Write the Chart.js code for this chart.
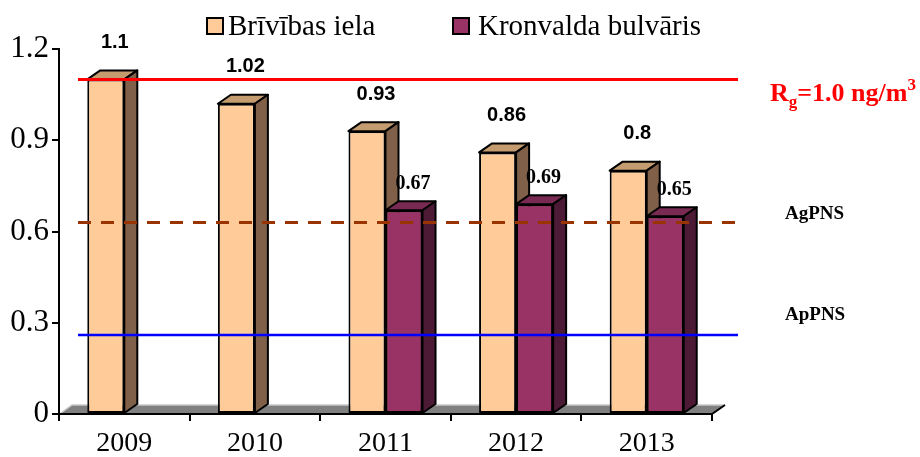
<!DOCTYPE html>
<html>
<head>
<meta charset="utf-8">
<script src="https://cdn.jsdelivr.net/npm/chart.js@4.4.1/dist/chart.umd.min.js"></script>
<style>
  body { margin: 0; background: #fff; }
</style>
</head>
<body>
<canvas id="chart" width="920" height="457"></canvas>
<script>
const years = ['2009', '2010', '2011', '2012', '2013'];
const brivibas = [1.1, 1.02, 0.93, 0.86, 0.8];
const kronvalda = [null, null, 0.67, 0.69, 0.65];
const seriesNames = ['Brīvības iela', 'Kronvalda bulvāris'];
const yTicks = [0, 0.3, 0.6, 0.9, 1.2];

// horizontal reference lines
const lineRg = 1.1;
const lineAg = 0.63;
const lineAp = 0.26;

const colors = [
    { front: '#FFCC99', top: '#C49C70', side: '#806048' },
    { front: '#993366', top: '#782A52', side: '#4D1A35' }
];
const DX = 13, DY = 9;
const serif = "'Liberation Serif', 'Times New Roman', serif";
const sans = "'Liberation Sans', Arial, sans-serif";

function drawBox(ctx, bar, c) {
    const left = bar.x - bar.width / 2, right = bar.x + bar.width / 2;
    const top = bar.y, bottom = bar.base;
    ctx.save();
    ctx.lineWidth = 2;
    ctx.strokeStyle = '#000';
    ctx.lineJoin = 'round';
    ctx.beginPath();
    ctx.moveTo(left, top);
    ctx.lineTo(left + DX, top - DY);
    ctx.lineTo(right + DX, top - DY);
    ctx.lineTo(right, top);
    ctx.closePath();
    ctx.fillStyle = c.top;
    ctx.fill();
    ctx.stroke();
    ctx.beginPath();
    ctx.moveTo(right, top);
    ctx.lineTo(right + DX, top - DY);
    ctx.lineTo(right + DX, bottom - DY);
    ctx.lineTo(right, bottom);
    ctx.closePath();
    ctx.fillStyle = c.side;
    ctx.fill();
    ctx.stroke();
    ctx.restore();
}

const boxes = {
    id: 'boxes',
    beforeDraw(chart) {
        // grey floor
        const { ctx, chartArea: a } = chart;
        ctx.save();
        ctx.beginPath();
        ctx.moveTo(a.left, a.bottom);
        ctx.lineTo(a.left + DX, a.bottom - DY);
        ctx.lineTo(a.right + DX, a.bottom - DY);
        ctx.lineTo(a.right, a.bottom);
        ctx.closePath();
        ctx.fillStyle = '#808080';
        ctx.fill();
        ctx.strokeStyle = '#C8C8C8';
        ctx.lineWidth = 1.5;
        ctx.beginPath();
        ctx.moveTo(a.left + 2, a.bottom - 1);
        ctx.lineTo(a.left + DX, a.bottom - DY);
        ctx.lineTo(a.right + DX, a.bottom - DY);
        ctx.stroke();
        ctx.strokeStyle = '#000';
        ctx.lineWidth = 2;
        ctx.beginPath();
        ctx.moveTo(a.right, a.bottom);
        ctx.lineTo(a.right + DX, a.bottom - DY);
        ctx.stroke();
        ctx.restore();
    },
    afterDatasetsDraw(chart) {
        const { ctx, chartArea: a, scales: { y } } = chart;
        const m0 = chart.getDatasetMeta(0), m1 = chart.getDatasetMeta(1);

        // 3d faces, left bar first then right bar in front of its side
        years.forEach((yr, i) => {
            if (brivibas[i] != null) drawBox(ctx, m0.data[i], colors[0]);
            if (kronvalda[i] != null) {
                m1.data[i].draw(ctx, a);
                drawBox(ctx, m1.data[i], colors[1]);
            }
        });

        const x0 = a.left + 19, x1 = a.right + 26;
        ctx.save();
        const hline = (v, color, w, dash) => {
            ctx.beginPath();
            ctx.strokeStyle = color;
            ctx.lineWidth = w;
            ctx.setLineDash(dash);
            ctx.moveTo(x0, y.getPixelForValue(v));
            ctx.lineTo(x1, y.getPixelForValue(v));
            ctx.stroke();
        };
        hline(lineRg, '#FF0000', 3, []);
        hline(lineAg, '#993300', 3, [13, 10]);
        hline(lineAp, '#0000FF', 2.5, []);
        ctx.setLineDash([]);

        // value labels
        ctx.textAlign = 'center';
        ctx.textBaseline = 'middle';
        ctx.fillStyle = '#000';
        m0.data.forEach((bar, i) => {
            ctx.font = 'bold 20px ' + sans;
            ctx.fillText(String(brivibas[i]), bar.x + 9, bar.y - 37);
        });
        m1.data.forEach((bar, i) => {
            if (kronvalda[i] == null) return;
            ctx.font = 'bold 20px ' + serif;
            ctx.fillText(kronvalda[i].toFixed(2), bar.x + 9, bar.y - 26);
        });

        // right side labels
        ctx.textAlign = 'left';
        ctx.textBaseline = 'alphabetic';
        let tx = a.right + 58;
        let by = y.getPixelForValue(lineRg) + 22;
        ctx.fillStyle = '#FF0000';
        ctx.font = 'bold 26px ' + serif;
        ctx.fillText('R', tx, by);
        tx += ctx.measureText('R').width;
        ctx.font = 'bold 17px ' + serif;
        ctx.fillText('g', tx, by + 6);
        tx += ctx.measureText('g').width;
        ctx.font = 'bold 26px ' + serif;
        ctx.fillText('=1.0 ng/m', tx, by);
        tx += ctx.measureText('=1.0 ng/m').width;
        ctx.font = 'bold 17px ' + serif;
        ctx.fillText('3', tx, by - 11);

        ctx.fillStyle = '#000';
        ctx.font = 'bold 19px ' + serif;
        ctx.textBaseline = 'middle';
        ctx.fillText('AgPNS', a.right + 73, y.getPixelForValue(lineAg) - 8);
        ctx.fillText('ApPNS', a.right + 73, y.getPixelForValue(lineAp) - 20);
        ctx.restore();
    },
    afterDraw(chart) {
        // legend
        const ctx = chart.ctx;
        const items = [{ x: 207, tx: 228 }, { x: 453, tx: 478 }];
        ctx.save();
        items.forEach((it, i) => {
            ctx.fillStyle = colors[i].front;
            ctx.fillRect(it.x, 18, 16, 16);
            ctx.strokeStyle = '#000';
            ctx.lineWidth = 2;
            ctx.strokeRect(it.x, 18, 16, 16);
            ctx.fillStyle = '#000';
            ctx.font = '29px ' + serif;
            ctx.textBaseline = 'alphabetic';
            ctx.fillText(seriesNames[i], it.tx, 35);
        });
        ctx.restore();
    }
};

new Chart(document.getElementById('chart'), {
    type: 'bar',
    data: {
        labels: years,
        datasets: [
            {
                label: seriesNames[0],
                data: brivibas,
                backgroundColor: colors[0].front,
                borderColor: '#000',
                borderWidth: 2,
                borderSkipped: false
            },
            {
                label: seriesNames[1],
                data: kronvalda,
                backgroundColor: colors[1].front,
                borderColor: '#000',
                borderWidth: 2,
                borderSkipped: false
            }
        ]
    },
    options: {
        responsive: false,
        animation: false,
        devicePixelRatio: 1,
        layout: { padding: { left: 0, right: 208, top: 49, bottom: 0 } },
        datasets: { bar: { categoryPercentage: 0.567, barPercentage: 1 } },
        plugins: { legend: { display: false }, tooltip: { enabled: false } },
        scales: {
            x: {
                grid: { drawOnChartArea: false, drawTicks: true, tickLength: 7, color: '#000', lineWidth: 2 },
                border: { color: '#000', width: 2 },
                ticks: { color: '#000', font: { family: serif, size: 28 }, padding: 6, maxRotation: 0 },
                afterFit(s) { s.height = 43; }
            },
            y: {
                min: 0,
                max: 1.2,
                afterBuildTicks(s) { s.ticks = yTicks.map(v => ({ value: v })); },
                grid: { drawOnChartArea: false, drawTicks: true, tickLength: 7, color: '#000', lineWidth: 2 },
                border: { color: '#000', width: 2 },
                ticks: { color: '#000', font: { family: serif, size: 31 }, padding: 3, callback: v => String(v) },
                afterFit(s) { s.width = 59; }
            }
        }
    },
    plugins: [boxes]
});
</script>
</body>
</html>
